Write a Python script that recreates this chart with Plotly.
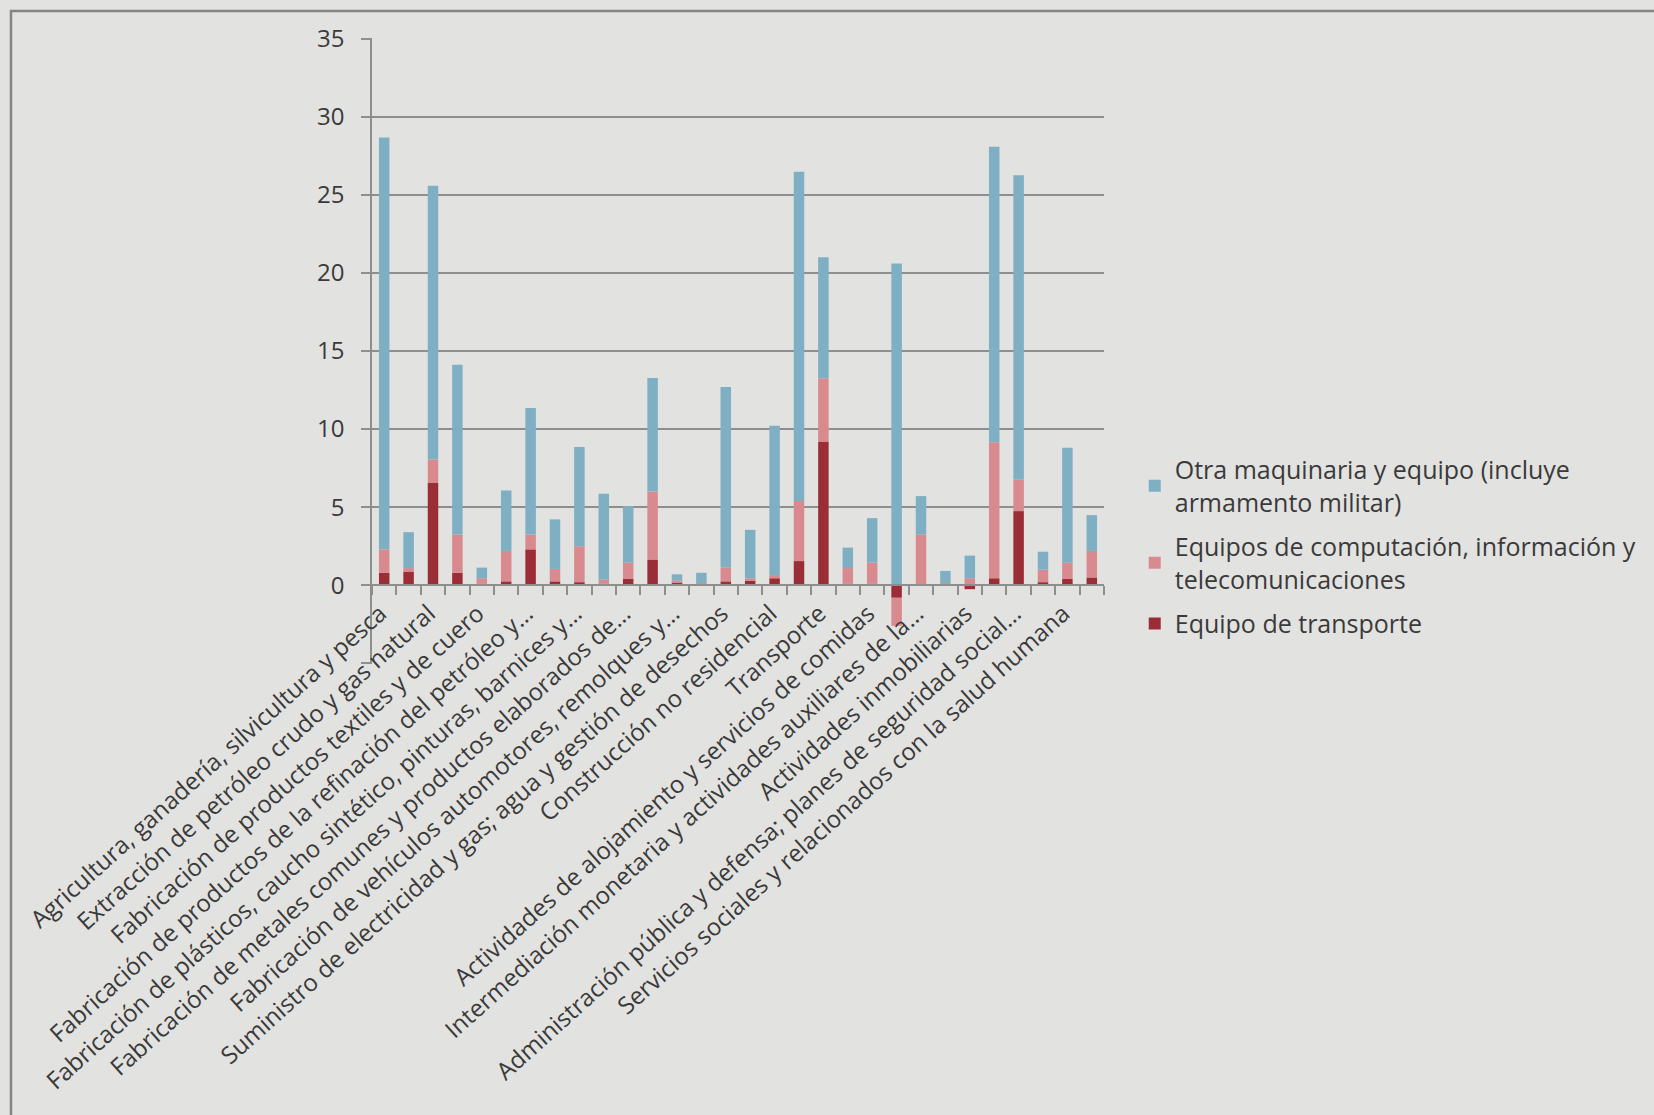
import plotly.graph_objects as go

# Sectores de actividad (30 categorías; el eje rotula una de cada dos)
sectores = [
    "Agricultura, ganadería, silvicultura y pesca",
    "Extracción de carbón y otras minas y canteras",
    "Extracción de petróleo crudo y gas natural",
    "Elaboración de productos alimenticios, bebidas y tabaco",
    "Fabricación de productos textiles y de cuero",
    "Fabricación de productos de madera, papel e imprenta",
    "Fabricación de productos de la refinación del petróleo y combustible nuclear",
    "Fabricación de sustancias y productos químicos",
    "Fabricación de plásticos, caucho sintético, pinturas, barnices y otros",
    "Fabricación de productos minerales no metálicos",
    "Fabricación de metales comunes y productos elaborados de metal",
    "Fabricación de maquinaria y equipo",
    "Fabricación de vehículos automotores, remolques y semirremolques",
    "Otras industrias manufactureras",
    "Suministro de electricidad y gas; agua y gestión de desechos",
    "Construcción de edificaciones residenciales",
    "Construcción no residencial",
    "Comercio",
    "Transporte",
    "Almacenamiento y correo",
    "Actividades de alojamiento y servicios de comidas",
    "Información y comunicaciones",
    "Intermediación monetaria y actividades auxiliares de la intermediación financiera",
    "Seguros y fondos de pensiones",
    "Actividades inmobiliarias",
    "Actividades profesionales, científicas y técnicas",
    "Administración pública y defensa; planes de seguridad social de afiliación obligatoria",
    "Educación",
    "Servicios sociales y relacionados con la salud humana",
    "Otras actividades de servicios",
]

# Rótulos visibles del eje (categorías impares, truncados)
etiquetas_eje = [
    "Agricultura, ganadería, silvicultura y pesca",
    "Extracción de petróleo crudo y gas natural",
    "Fabricación de productos textiles y de cuero",
    "Fabricación de productos de la refinación del petróleo y…",
    "Fabricación de plásticos, caucho sintético, pinturas, barnices y…",
    "Fabricación de metales comunes y productos elaborados de…",
    "Fabricación de vehículos automotores, remolques y…",
    "Suministro de electricidad y gas; agua y gestión de desechos",
    "Construcción no residencial",
    "Transporte",
    "Actividades de alojamiento y servicios de comidas",
    "Intermediación monetaria y actividades auxiliares de la…",
    "Actividades inmobiliarias",
    "Administración pública y defensa; planes de seguridad social…",
    "Servicios sociales y relacionados con la salud humana",
]

equipo_transporte = [0.80, 0.85, 6.55, 0.80, 0.10, 0.25, 2.30, 0.25, 0.20, 0.10,
                     0.40, 1.65, 0.20, 0.05, 0.25, 0.30, 0.45, 1.55, 9.20, 0.10,
                     0.10, -0.80, 0.05, 0.05, -0.25, 0.45, 4.75, 0.20, 0.40, 0.50]

equipos_computacion = [1.50, 0.25, 1.50, 2.45, 0.35, 1.95, 0.95, 0.80, 2.30, 0.25,
                       1.05, 4.35, 0.10, 0.10, 0.90, 0.15, 0.20, 3.85, 4.05, 1.00,
                       1.35, -1.80, 3.20, 0.10, 0.45, 8.70, 2.00, 0.80, 1.05, 1.70]

otra_maquinaria = [26.37, 2.30, 17.53, 10.87, 0.68, 3.87, 8.10, 3.17, 6.36, 5.51,
                   3.62, 7.27, 0.40, 0.65, 11.55, 3.10, 9.57, 21.07, 7.75, 1.31,
                   2.85, 20.60, 2.46, 0.77, 1.45, 18.92, 19.51, 1.15, 7.35, 2.29]

y_ticks = [-5, 0, 5, 10, 15, 20, 25, 30, 35]

# orden de apilado (de abajo arriba); la leyenda lista de arriba abajo al revés
series = [
    ("Equipo de transporte", equipo_transporte, "#9b2d37"),
    ("Equipos de computación, información y<br>telecomunicaciones", equipos_computacion, "#d88a8e"),
    ("Otra maquinaria y equipo (incluye<br>armamento militar)", otra_maquinaria, "#7eafc3"),
]

posiciones = list(range(len(sectores)))

fig = go.Figure()
for i, (nombre, valores, color) in enumerate(series):
    fig.add_trace(go.Bar(
        x=posiciones,
        y=valores,
        name=nombre,
        legendgroup=f"g{i}",
        legendrank=100 * (len(series) - i),
        marker=dict(color=color, line=dict(width=0)),
        hovertext=sectores,
    ))

FONDO = "#e2e2e0"
GRIS = "#8e8e8e"
TEXTO = "#3a3a3a"

# margen mínimo para que se dibujen las líneas de cuadrícula de los extremos
y_min, y_max = y_ticks[0] - 0.04, y_ticks[-1] + 0.04
pos_cero = (0 - y_min) / (y_max - y_min)

fig.update_layout(
    width=1654,
    height=1115,
    barmode="relative",
    bargap=0.57,
    paper_bgcolor=FONDO,
    plot_bgcolor=FONDO,
    margin=dict(l=372, r=550, t=38, b=451, autoexpand=False),
    font=dict(family="Open Sans", color=TEXTO, size=24),
    showlegend=True,
    legend=dict(
        x=1.042, y=0.347, xanchor="left", yanchor="top",
        traceorder="grouped",
        font=dict(size=25, color=TEXTO),
        bgcolor="rgba(0,0,0,0)",
        itemwidth=30,
        tracegroupgap=9,
    ),
    xaxis=dict(
        range=[-0.5, len(sectores) - 0.5],
        anchor="free",
        position=pos_cero,
        tickmode="array",
        tickvals=posiciones[0::2],
        ticktext=etiquetas_eje,
        tickangle=-42,
        ticks="",
        showgrid=False,
        zeroline=False,
        showline=True,
        linecolor=GRIS,
        linewidth=1.5,
        tickfont=dict(size=24, color=TEXTO),
        ticklabelstandoff=4,
        ticklabelshift=-4,
        automargin=False,
        minor=dict(
            tickmode="linear", tick0=-0.5, dtick=1,
            ticks="outside", ticklen=9, tickcolor=GRIS, tickwidth=1.5,
            showgrid=False,
        ),
    ),
    yaxis=dict(
        range=[y_min, y_max],
        tickmode="array",
        tickvals=y_ticks,
        ticktext=["" if v < 0 else str(v) for v in y_ticks],
        ticks="outside",
        ticklen=9,
        tickcolor=GRIS,
        tickwidth=1.5,
        showgrid=True,
        gridcolor=GRIS,
        gridwidth=1.5,
        zeroline=False,
        showline=True,
        linecolor=GRIS,
        linewidth=1.5,
        tickfont=dict(size=24, color=TEXTO),
        ticklabelstandoff=12,
        automargin=False,
    ),
    shapes=[
        # marco exterior del gráfico
        dict(type="rect", xref="paper", yref="paper",
             x0=-0.4932, x1=1.80, y0=-0.80, y1=1.0431,
             line=dict(color="#858585", width=2.5), fillcolor="rgba(0,0,0,0)",
             layer="below"),
    ],
)

fig.write_html("out.html")
